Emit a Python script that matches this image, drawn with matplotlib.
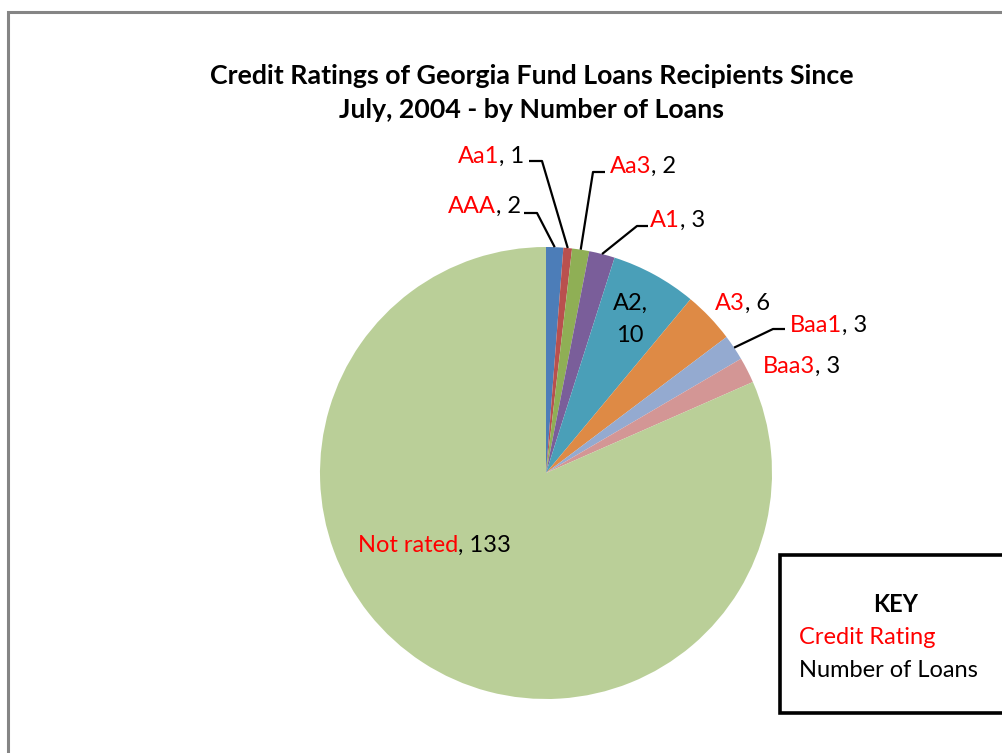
import matplotlib
matplotlib.use("Agg")
import matplotlib.pyplot as plt
import numpy as np

# ---- data ----
ratings = ["AAA", "Aa1", "Aa3", "A1", "A2", "A3", "Baa1", "Baa3", "Not rated"]
loans = [2, 1, 2, 3, 10, 6, 3, 3, 133]
colors = ["#4C7DB8", "#B9504E", "#8FAF55", "#7A5E9A", "#4A9FB8",
          "#DE8A45", "#94AAD0", "#D39695", "#BACF98"]
title_lines = ["Credit Ratings of Georgia Fund Loans Recipients Since",
               "July, 2004 - by Number of Loans"]

W, H = 1003, 753
FONT = "Lato"
RED = "#FF0000"
FS = 17

fig = plt.figure(figsize=(W / 100, H / 100), dpi=100)
ax = fig.add_axes([0, 0, 1, 1])

def Y(y):
    return H - y

wedges, _ = ax.pie(loans, colors=colors, startangle=90, counterclock=False,
                   center=(546, Y(473)), radius=226,
                   wedgeprops=dict(linewidth=0))
ax.set_xlim(0, W)
ax.set_ylim(0, H)
ax.set_aspect("equal")
ax.axis("off")

# outer chart frame (partially visible)
ax.plot([8.5, 8.5, W + 5], [-5, Y(11.5), Y(11.5)], color="#858585", lw=2.2,
        solid_joinstyle="miter", clip_on=False)

# title
for i, line in enumerate(title_lines):
    ax.text(532, Y(84 + 34 * i), line, ha="center", va="baseline",
            fontsize=19.3, fontweight="bold", family=FONT, color="#000000")

def two_color(x, y_base, red, black):
    t1 = ax.text(x, Y(y_base), red, color=RED, fontsize=FS, family=FONT,
                 ha="left", va="baseline")
    ax.annotate(black, xy=(1, 0), xycoords=t1, ha="left", va="bottom",
                fontsize=FS, family=FONT, color="black")

# label layout: (text left x, baseline y, leader stub [x_text_side, x_elbow, y] or None)
layout = {
    "AAA": (448, 213, (524, 537, 213)),
    "Aa1": (458, 163, (529, 542, 161)),
    "Aa3": (610, 173, (605, 593, 172)),
    "A1": (650, 227, (648, 637, 226)),
    "A3": (715, 310, None),
    "Baa1": (790, 332, (785, 773, 329)),
    "Baa3": (763, 373, None),
    "Not rated": (358, 552, None),
}

for i, (name, val) in enumerate(zip(ratings, loans)):
    if name == "A2":
        ax.text(630, Y(310), f"{name},", ha="center", va="baseline",
                fontsize=FS, family=FONT, color="black")
        ax.text(630, Y(342), f"{val}", ha="center", va="baseline",
                fontsize=FS, family=FONT, color="black")
        continue
    x, yb, stub = layout[name]
    two_color(x, yb, name, f", {val}")
    if stub is not None:
        w = wedges[i]
        ang = np.deg2rad((w.theta1 + w.theta2) / 2)
        ax_, ay_ = w.center[0] + w.r * np.cos(ang), w.center[1] + w.r * np.sin(ang)
        ax.plot([stub[0], stub[1], ax_], [Y(stub[2]), Y(stub[2]), ay_],
                color="black", lw=1.6, solid_capstyle="butt")

# key box
ax.plot([W + 5, 780, 780, W + 5], [Y(555), Y(555), Y(713), Y(713)],
        color="black", lw=2.6, solid_joinstyle="miter", clip_on=False)
ax.text(896, Y(612), "KEY", ha="center", va="baseline", fontsize=FS,
        fontweight="bold", family=FONT, color="black")
ax.text(799, Y(644), "Credit Rating", ha="left", va="baseline", fontsize=FS,
        family=FONT, color=RED)
ax.text(799, Y(677), "Number of Loans", ha="left", va="baseline", fontsize=FS,
        family=FONT, color="black")

fig.savefig("out.png", dpi=100)
